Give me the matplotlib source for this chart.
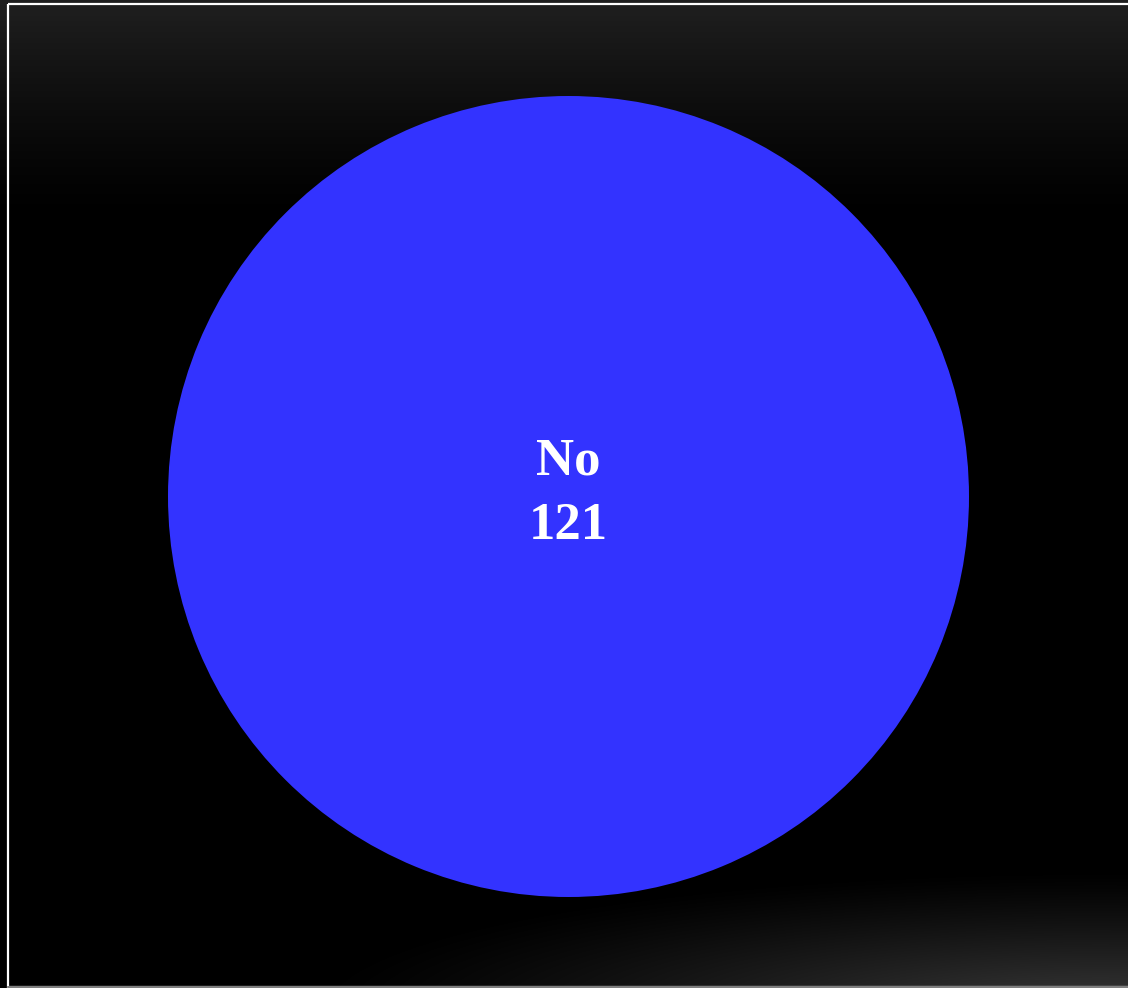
import numpy as np
import matplotlib.pyplot as plt
from matplotlib.patches import Rectangle

# data
categories = ["No"]
values = [121]
colors = ["#3333FF"]

W, H = 1128, 988
fig = plt.figure(figsize=(W / 100, H / 100), dpi=100, facecolor="#222222")
ax = fig.add_axes([0, 0, 1, 1])
ax.set_facecolor("black")

# background: dark gradient at the top, soft glow at the bottom right
yy, xx = np.mgrid[0:H, 0:W].astype(float)
top = 32 * np.clip(1 - yy / 220.0, 0, 1) ** 1.3
d = np.sqrt(((xx - 1100) / 800.0) ** 2 + ((yy - 1010) / 140.0) ** 2)
glow = 58 * np.clip(1 - d, 0, 1) ** 1.2
bg = np.clip(top + glow, 0, 255) / 255.0
ax.imshow(np.dstack([bg, bg, bg]), extent=[0, W, H, 0], interpolation="bilinear", zorder=0)

# panel border
ax.add_patch(Rectangle((7.5, 4.5), W + 10, H - 5.5, fill=False, edgecolor="white", linewidth=1.6, zorder=1))
ax.plot([8, W], [987, 987], color="#666666", linewidth=1.2, zorder=1)

total = sum(values)
wedges, texts, autotexts = ax.pie(
    values, colors=colors, center=(568.5, 496.5), radius=400.5, startangle=90,
    autopct=lambda p: f"{categories[0]}\n{round(p * total / 100)}", pctdistance=0,
    textprops=dict(color="white", fontsize=38, fontweight="bold", family="Liberation Serif"),
    wedgeprops=dict(linewidth=0))
for t in autotexts:
    t.set_linespacing(1.45)
    t.set_position((568.5, 494))

ax.set_xlim(0, W)
ax.set_ylim(H, 0)
ax.set_aspect("auto")
ax.axis("off")

fig.savefig("out.png", dpi=100, facecolor=fig.get_facecolor())
